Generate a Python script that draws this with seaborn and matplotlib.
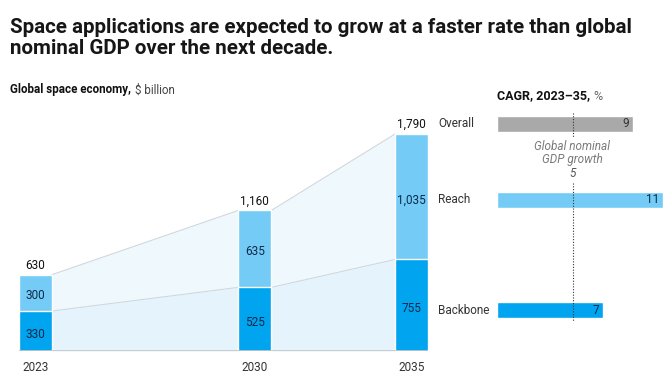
import matplotlib.pyplot as plt
import matplotlib.transforms as mtransforms
import pandas as pd
import seaborn as sns

# Data
years = [2023, 2030, 2035]
backbone = [330, 525, 755]
reach = [300, 635, 1035]
totals = [630, 1160, 1790]

cagr_labels = ["Overall", "Reach", "Backbone"]
cagr_values = [9, 11, 7]
gdp_growth = 5

title = "Space applications are expected to grow at a faster rate than global\nnominal GDP over the next decade."

# Colours
C_BACK = "#00a4ef"
C_REACH = "#74cbf6"
C_OVERALL = "#a9a9a9"
C_FILL_LOW = "#e5f3fc"
C_FILL_HIGH = "#eff8fd"
C_LINE = "#cfd8de"
C_TEXT_IN = "#0b2a4a"

sns.set_theme(style="white")
plt.rcParams["font.family"] = ["Roboto", "DejaVu Sans"]

W, H = 670, 378
fig = plt.figure(figsize=(W / 100, H / 100), dpi=100)

BASE_PX = 351
PX_PER_UNIT = 0.1212


def px_axes(x0, x1, y_top, y_bot):
    return fig.add_axes([x0 / W, 1 - y_bot / H, (x1 - x0) / W, (y_bot - y_top) / H])


def py(px):
    # pixel row -> data value on the shared value scale
    return (BASE_PX - px) / PX_PER_UNIT


# ---- left: stacked bars ----
px_per_year = 31.3
bar_w = 33 / px_per_year
ax = px_axes(19, 428, 100, BASE_PX)
ymax = py(100)

df = pd.DataFrame({"year": years, "backbone": backbone, "reach": reach, "total": totals})

# connecting areas between bars
for i in range(len(years) - 1):
    xs = [years[i] + bar_w / 2, years[i + 1] - bar_w / 2]
    b = [backbone[i], backbone[i + 1]]
    t = [totals[i], totals[i + 1]]
    ax.fill_between(xs, 0, b, color=C_FILL_LOW, lw=0, zorder=1)
    ax.fill_between(xs, b, t, color=C_FILL_HIGH, lw=0, zorder=1)
    ax.plot(xs, b, color=C_LINE, lw=0.8, zorder=2)
    ax.plot(xs, t, color=C_LINE, lw=0.8, zorder=2)

width_rel = bar_w / 5  # relative to the min spacing (5 years)
sns.barplot(data=df, x="year", y="total", native_scale=True, color=C_REACH,
            saturation=1, width=width_rel, ax=ax, zorder=3)
sns.barplot(data=df, x="year", y="backbone", native_scale=True, color=C_BACK,
            saturation=1, width=width_rel, ax=ax, zorder=4)
ax.set_xlim(2023 - bar_w / 2, 2035 + bar_w / 2)
ax.set_ylim(0, ymax)

for yr, b, r, t in zip(years, backbone, reach, totals):
    ax.text(yr, b / 2 - 25, f"{b:,}", ha="center", va="center", fontsize=8.5, color=C_TEXT_IN, zorder=5)
    ax.text(yr, b + r / 2 - 25, f"{r:,}", ha="center", va="center", fontsize=8.5, color=C_TEXT_IN, zorder=5)
    ax.text(yr, t + 25, f"{t:,}", ha="center", va="bottom", fontsize=8.5, color="#111111", zorder=5)

ax.axhline(0, color="#c4c4c4", lw=1.2, zorder=6)
ax.set_xticks(years)
ax.set_xticklabels([str(y) for y in years], fontsize=8.5, color="#333333")
ax.tick_params(axis="x", length=0, pad=7)
ax.set_yticks([])
ax.set_xlabel("")
ax.set_ylabel("")
sns.despine(ax=ax, left=True, bottom=True)

# ---- right: CAGR bars ----
ax2 = px_axes(497, 670, 100, BASE_PX)
ax2.set_xlim(0, 173 / 15.1)
ax2.set_ylim(0, ymax)
bar_pos = [py(124), py(200), py(310)]
bar_cols = [C_OVERALL, C_REACH, C_BACK]
ax2.barh(bar_pos, cagr_values, height=16 / PX_PER_UNIT, color=bar_cols, zorder=3)

trans = mtransforms.blended_transform_factory(fig.transFigure, ax2.transData)
for lab, val, yp in zip(cagr_labels, cagr_values, bar_pos):
    ax2.text(438 / W, yp, lab, transform=trans, ha="left", va="center", fontsize=8.5, color="#333333")
    ax2.text(val - 0.25, yp, str(val), ha="right", va="center", fontsize=8.5,
             color="#333333" if lab == "Overall" else C_TEXT_IN, zorder=5)

# dotted reference line with a gap for its label
dots = dict(color="#333333", lw=0.8, ls=(0, (1, 1.5)), zorder=4)
ax2.plot([gdp_growth, gdp_growth], [py(113), py(138)], **dots)
ax2.plot([gdp_growth, gdp_growth], [py(183), py(321)], **dots)
ax2.text(gdp_growth, py(153.5), "Global nominal\nGDP growth", ha="center", va="center",
         fontsize=8.5, style="italic", color="#7a7a7a", linespacing=1.0)
ax2.text(gdp_growth, py(174), str(gdp_growth), ha="center", va="center",
         fontsize=8.5, style="italic", color="#555555")
ax2.axis("off")

# ---- titles ----
fig.text(10 / W, 1 - 18 / H, title, ha="left", va="top", fontsize=14.8, fontweight="bold",
         color="#161616", linespacing=1.1)
t1 = fig.text(10 / W, 1 - 90 / H, "Global space economy,", ha="left", va="center",
              fontsize=8.4, fontweight="bold", color="#111111")
fig.canvas.draw()
bb = t1.get_window_extent()
fig.text((bb.x1 + 4) / W, 1 - 90 / H, "$ billion", ha="left", va="center", fontsize=8.4,
         color="#444444")
t2 = fig.text(497 / W, 1 - 96 / H, "CAGR, 2023\u201335,", ha="left", va="center",
              fontsize=9, fontweight="bold", color="#111111")
fig.canvas.draw()
bb2 = t2.get_window_extent()
fig.text((bb2.x1 + 3) / W, 1 - 96 / H, "%", ha="left", va="center", fontsize=9, color="#666666")

fig.savefig("out.png", dpi=100)
